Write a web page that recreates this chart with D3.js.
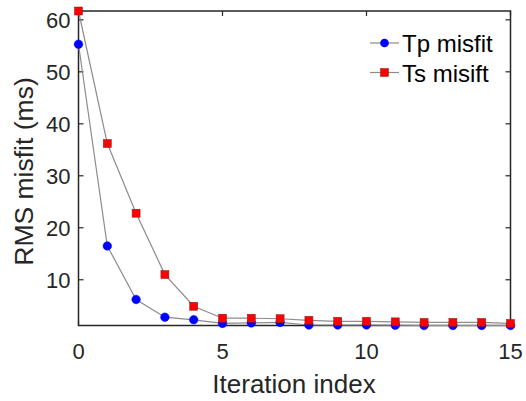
<!DOCTYPE html>
<html>
<head>
<meta charset="utf-8">
<script src="https://cdn.jsdelivr.net/npm/d3@7"></script>
<style>
  html, body { margin: 0; padding: 0; background: #fff; }
  svg { display: block; font-family: "Liberation Sans", Arial, sans-serif; }
</style>
</head>
<body>
<svg id="chart" width="526" height="401"></svg>
<script>
// Iteration indices and RMS misfit (ms) per iteration
const iterations = [0, 1, 2, 3, 4, 5, 6, 7, 8, 9, 10, 11, 12, 13, 14, 15];
const tpMisfit = [55.3, 16.5, 6.2, 2.8, 2.3, 1.6, 1.7, 1.8, 1.3, 1.3, 1.3, 1.25, 1.2, 1.2, 1.2, 1.2];
const tsMisfit = [61.7, 36.2, 22.8, 11.0, 4.9, 2.6, 2.6, 2.5, 2.2, 2.0, 2.0, 1.9, 1.8, 1.8, 1.8, 1.6];
const xTicks = [0, 5, 10, 15];
const yTicks = [10, 20, 30, 40, 50, 60];
const seriesNames = ["Tp misfit", "Ts misift"];

const svg = d3.select("#chart");
const plotLeft = 78.5, plotRight = 510.5, plotTop = 11, plotBottom = 325.5;
const axisColor = "#262626";

const x = d3.scaleLinear().domain([0, 15]).range([plotLeft, plotRight]);
const y = d3.scaleLinear()
  .domain([d3.min(tpMisfit.concat(tsMisfit)), d3.max(tpMisfit.concat(tsMisfit))])
  .range([plotBottom, plotTop]);

// Box outline
svg.append("rect")
  .attr("x", plotLeft).attr("y", plotTop)
  .attr("width", plotRight - plotLeft).attr("height", plotBottom - plotTop)
  .attr("fill", "none").attr("stroke", axisColor).attr("stroke-width", 1.5);

// Inward ticks on all four sides
const tickLen = 5;
const g = svg.append("g").attr("stroke", axisColor).attr("stroke-width", 1.2);
xTicks.forEach(t => {
  g.append("line").attr("x1", x(t)).attr("x2", x(t)).attr("y1", plotBottom).attr("y2", plotBottom - tickLen);
  g.append("line").attr("x1", x(t)).attr("x2", x(t)).attr("y1", plotTop).attr("y2", plotTop + tickLen);
});
yTicks.forEach(t => {
  g.append("line").attr("x1", plotLeft).attr("x2", plotLeft + tickLen).attr("y1", y(t)).attr("y2", y(t));
  g.append("line").attr("x1", plotRight).attr("x2", plotRight - tickLen).attr("y1", y(t)).attr("y2", y(t));
});

// Tick labels
svg.append("g").selectAll("text").data(xTicks).join("text")
  .attr("x", d => x(d)).attr("y", plotBottom + 33.5)
  .attr("text-anchor", "middle").attr("font-size", 22).attr("fill", axisColor)
  .text(d => d);
svg.append("g").selectAll("text").data(yTicks).join("text")
  .attr("x", plotLeft - 8).attr("y", d => y(d) + 8)
  .attr("text-anchor", "end").attr("font-size", 22).attr("fill", axisColor)
  .text(d => d);

// Axis titles
svg.append("text")
  .attr("x", 294).attr("y", 393)
  .attr("text-anchor", "middle").attr("font-size", 26).attr("fill", axisColor)
  .text("Iteration index");
svg.append("text")
  .attr("transform", "translate(33,171.5) rotate(-90)")
  .attr("text-anchor", "middle").attr("font-size", 26.5).attr("fill", axisColor)
  .text("RMS misfit (ms)");

// Lines
const line = d3.line().x((d, i) => x(iterations[i])).y(d => y(d));
[tpMisfit, tsMisfit].forEach(s => {
  svg.append("path").datum(s).attr("d", line)
    .attr("fill", "none").attr("stroke", "#8c8c8c").attr("stroke-width", 1.2);
});

// Markers
svg.append("g").selectAll("circle").data(tpMisfit).join("circle")
  .attr("cx", (d, i) => x(iterations[i])).attr("cy", d => y(d))
  .attr("r", 4.3).attr("fill", "#0000ff").attr("stroke", "#0000ff").attr("stroke-width", 0.5);
const sq = 8;
svg.append("g").selectAll("rect").data(tsMisfit).join("rect")
  .attr("x", (d, i) => x(iterations[i]) - sq / 2).attr("y", d => y(d) - sq / 2)
  .attr("width", sq).attr("height", sq)
  .attr("fill", "#ff0000").attr("stroke", "#7a2020").attr("stroke-width", 0.5);

// Legend
const legend = svg.append("g");
seriesNames.forEach((name, i) => {
  const ly = 43 + i * 29.5;
  legend.append("line").attr("x1", 370).attr("x2", 399).attr("y1", ly).attr("y2", ly)
    .attr("stroke", "#8c8c8c").attr("stroke-width", 1.2);
  if (i === 0) {
    legend.append("circle").attr("cx", 384.5).attr("cy", ly).attr("r", 4.3).attr("fill", "#0000ff");
  } else {
    legend.append("rect").attr("x", 384.5 - sq / 2).attr("y", ly - sq / 2)
      .attr("width", sq).attr("height", sq).attr("fill", "#ff0000")
      .attr("stroke", "#7a2020").attr("stroke-width", 0.5);
  }
  legend.append("text").attr("x", 402).attr("y", ly + 9)
    .attr("font-size", 24).attr("fill", "#000").text(name);
});
</script>
</body>
</html>
